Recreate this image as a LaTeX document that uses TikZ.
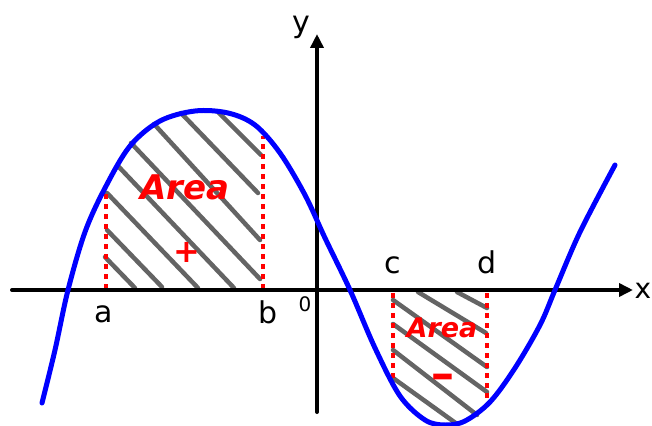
\documentclass[tikz,border=0pt]{standalone}
\usepackage{fontspec}
\setmainfont{DejaVu Sans}
\usetikzlibrary{arrows.meta}
\definecolor{hatch}{RGB}{100,100,100}
\definecolor{redmark}{RGB}{255,0,0}
\tikzset{
  axis/.style={line width=4pt, line cap=round, -{Triangle[length=14pt,width=13pt]}},
  curve/.style={line width=5pt, color=blue, line cap=round, line join=round},
  hatchline/.style={line width=4.5pt, color=hatch, line cap=round},
  bound/.style={line width=4pt, color=redmark, dash pattern=on 5pt off 5pt},
  lbl/.style={font=\fontsize{30}{32}\selectfont, text=black, inner sep=0pt},
  areatxt/.style={font=\fontsize{34}{36}\selectfont\bfseries\itshape, text=redmark, inner sep=0pt},
  signtxt/.style={font=\fontsize{32}{34}\selectfont\bfseries, text=redmark, inner sep=0pt}
}
\begin{document}
\begin{tikzpicture}[x=1pt,y=-1pt]
\useasboundingbox (0,0) rectangle (652,425);
% hatching left
\draw[hatchline] (105,257) -- (135,288);
\draw[hatchline] (107,230) -- (162,287);
\draw[hatchline] (107,193) -- (198,288);
\draw[hatchline] (118,166) -- (234,288);
\draw[hatchline] (131,143) -- (260,279);
\draw[hatchline] (154,124) -- (260,240);
\draw[hatchline] (181,113) -- (258,193);
\draw[hatchline] (218,112) -- (261,155);
% hatching right
\draw[hatchline] (457,292) -- (487,308);
\draw[hatchline] (418,292) -- (486,333);
\draw[hatchline] (393,300) -- (487,367);
\draw[hatchline] (393,324) -- (487,392);
\draw[hatchline] (393,350) -- (477,415);
\draw[hatchline] (393,378) -- (457,424);
% red bounds
\coordinate (a1) at (106,289); \coordinate (a2) at (106,193);
\coordinate (b1) at (263,289); \coordinate (b2) at (263,136);
\coordinate (c1) at (393,293); \coordinate (c2) at (393,378);
\coordinate (d1) at (487,293); \coordinate (d2) at (487,404);
\draw[bound] (a1) -- (a2);
\draw[bound] (b1) -- (b2);
\draw[bound] (c1) -- (c2);
\draw[bound] (d1) -- (d2);
% axes
\coordinate (xs) at (12,290); \coordinate (xe) at (633,290);
\coordinate (ys) at (317,412); \coordinate (ye) at (317,34);
\draw[axis] (xs) -- (xe);
\draw[axis] (ys) -- (ye);
% curve
\draw[curve] plot[smooth, tension=0.55] coordinates {
 (42,403) (55,350) (68,290) (85,232) (105,188) (130,146) (160,121)
 (195,111) (228,113) (255,125) (280,153) (305,195) (325,238) (350,290)
 (375,348) (400,396) (425,420) (445,425) (465,421) (490,402) (515,368)
 (540,325) (555,290) (580,232) (615,165)};
% labels
\node[lbl] (la) at (104,314) {a};
\node[lbl] (lb) at (268,312) {b};
\node[lbl] (lc) at (393,265) {c};
\node[lbl] (ld) at (487,262) {d};
\node[lbl, font=\fontsize{28}{30}\selectfont] (lx) at (643,291) {x};
\node[lbl] (ly) at (301,27) {y};
\node[lbl, font=\fontsize{20}{22}\selectfont] (l0) at (305,304) {0};
\node[areatxt] (area1) at (185,187) {Area};
\node[signtxt] (plus) at (187,252) {+};
\node[areatxt, font=\fontsize{27}{29}\selectfont\bfseries\itshape] (area2) at (442,328) {Area};
\node[signtxt, font=\fontsize{40}{42}\selectfont\bfseries] (minus) at (443,381) {\scalebox{1.5}[1]{-}};
\end{tikzpicture}
\end{document}
